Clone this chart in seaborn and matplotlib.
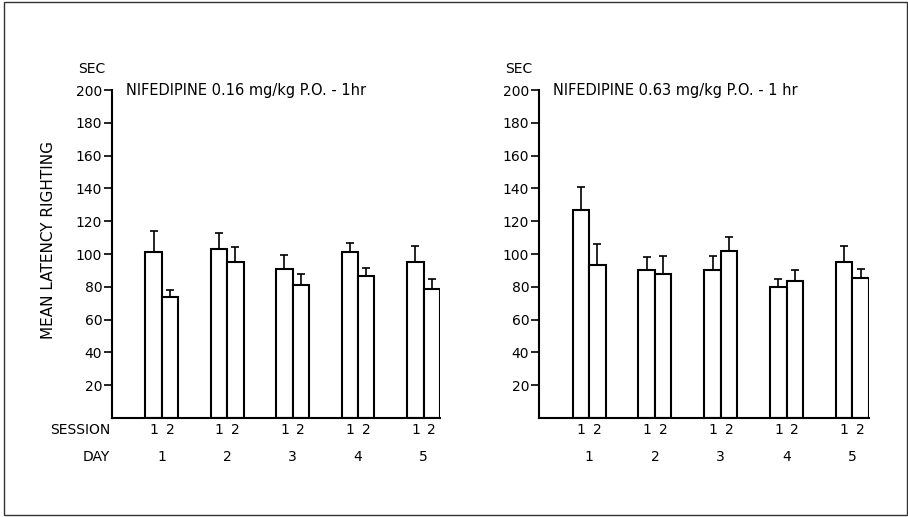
import matplotlib
matplotlib.use("Agg")
import matplotlib.pyplot as plt
import matplotlib.patches as mpatches
import numpy as np
import pandas as pd
import seaborn as sns

sns.set_style("white")
plt.rcParams["font.family"] = ["DejaVu Sans"]
plt.rcParams["text.color"] = "black"
plt.rcParams["ytick.color"] = "black"
plt.rcParams["ytick.labelcolor"] = "black"

# ── data ──
days = [1, 2, 3, 4, 5]
sessions = ["1", "2"]

low_dose_title = "NIFEDIPINE 0.16 mg/kg P.O. - 1hr"
low_s1 = [101, 103, 91, 101.5, 95]
low_s2 = [74, 95, 81, 86.5, 78.5]
low_err_s1 = [13, 10, 8.5, 5.5, 9.7]
low_err_s2 = [4, 9, 7, 5, 6]

high_dose_title = "NIFEDIPINE 0.63 mg/kg P.O. - 1 hr"
high_s1 = [127, 90.5, 90.5, 80, 95]
high_s2 = [93, 88, 102, 83.5, 85.5]
high_err_s1 = [14, 7.5, 8.5, 5, 10]
high_err_s2 = [13, 11, 8.5, 6.5, 5.5]

y_ticks = [20, 40, 60, 80, 100, 120, 140, 160, 180, 200]


def make_df(s1, s2):
    rows = []
    for d, a, b in zip(days, s1, s2):
        rows.append({"day": d, "session": "1", "latency": a})
        rows.append({"day": d, "session": "2", "latency": b})
    return pd.DataFrame(rows)


def draw_panel(ax, df, errs, title, show_row_labels):
    sns.barplot(data=df, x="day", y="latency", hue="session", hue_order=sessions,
                width=0.5, palette=["white", "white"], edgecolor="black",
                linewidth=1.5, errorbar=None, legend=False, ax=ax)
    trans = ax.get_xaxis_transform()
    for cont, err, lab in zip(ax.containers, errs, sessions):
        xs = [b.get_x() + b.get_width() / 2 for b in cont]
        ys = [b.get_height() for b in cont]
        ax.errorbar(xs, ys, yerr=[np.zeros(len(err)), err], fmt="none",
                    ecolor="black", elinewidth=1.2, capsize=3, capthick=1.2, zorder=5)
        for x in xs:
            ax.text(x, -0.037, lab, transform=trans, ha="center", va="center", fontsize=10)
    for i, d in enumerate(days):
        ax.text(i, -0.119, str(d), transform=trans, ha="center", va="center", fontsize=10)

    ax.set_xlim(-0.76, 4.25)
    ax.set_ylim(0, 200)
    ax.set_yticks(y_ticks)
    ax.set_xticks([])
    ax.set_xlabel("")
    ax.set_ylabel("")
    ax.tick_params(axis="y", direction="out", length=6, width=1.2, pad=1, labelsize=10,
                   left=True, colors="black")
    sns.despine(ax=ax)
    for s in ["left", "bottom"]:
        ax.spines[s].set_linewidth(1.5)
        ax.spines[s].set_color("black")
    ax.text(-0.02, 1.064, "SEC", transform=ax.transAxes, ha="right", va="center", fontsize=10)
    ax.text(0.043, 1.0, title, transform=ax.transAxes, ha="left", va="center", fontsize=10.5)
    if show_row_labels:
        ax.text(-0.006, -0.037, "SESSION", transform=ax.transAxes, ha="right", va="center", fontsize=10)
        ax.text(-0.006, -0.119, "DAY", transform=ax.transAxes, ha="right", va="center", fontsize=10)


fig = plt.figure(figsize=(9.08, 5.17), dpi=100)
ax1 = fig.add_axes([0.1233, 0.1915, 0.3612, 0.6344])
ax2 = fig.add_axes([0.5936, 0.1915, 0.3634, 0.6344])

draw_panel(ax1, make_df(low_s1, low_s2), [low_err_s1, low_err_s2], low_dose_title, True)
draw_panel(ax2, make_df(high_s1, high_s2), [high_err_s1, high_err_s2], high_dose_title, False)

fig.text(0.053, 0.536, "MEAN LATENCY RIGHTING", rotation=90, ha="center", va="center", fontsize=11)

# thin frame around the whole figure
fig.patches.append(mpatches.Rectangle((0.0044, 0.004), 0.9945, 0.992, transform=fig.transFigure,
                                      fill=False, edgecolor="#333333", linewidth=1))

fig.savefig("out.png", dpi=100)
plt.close(fig)
